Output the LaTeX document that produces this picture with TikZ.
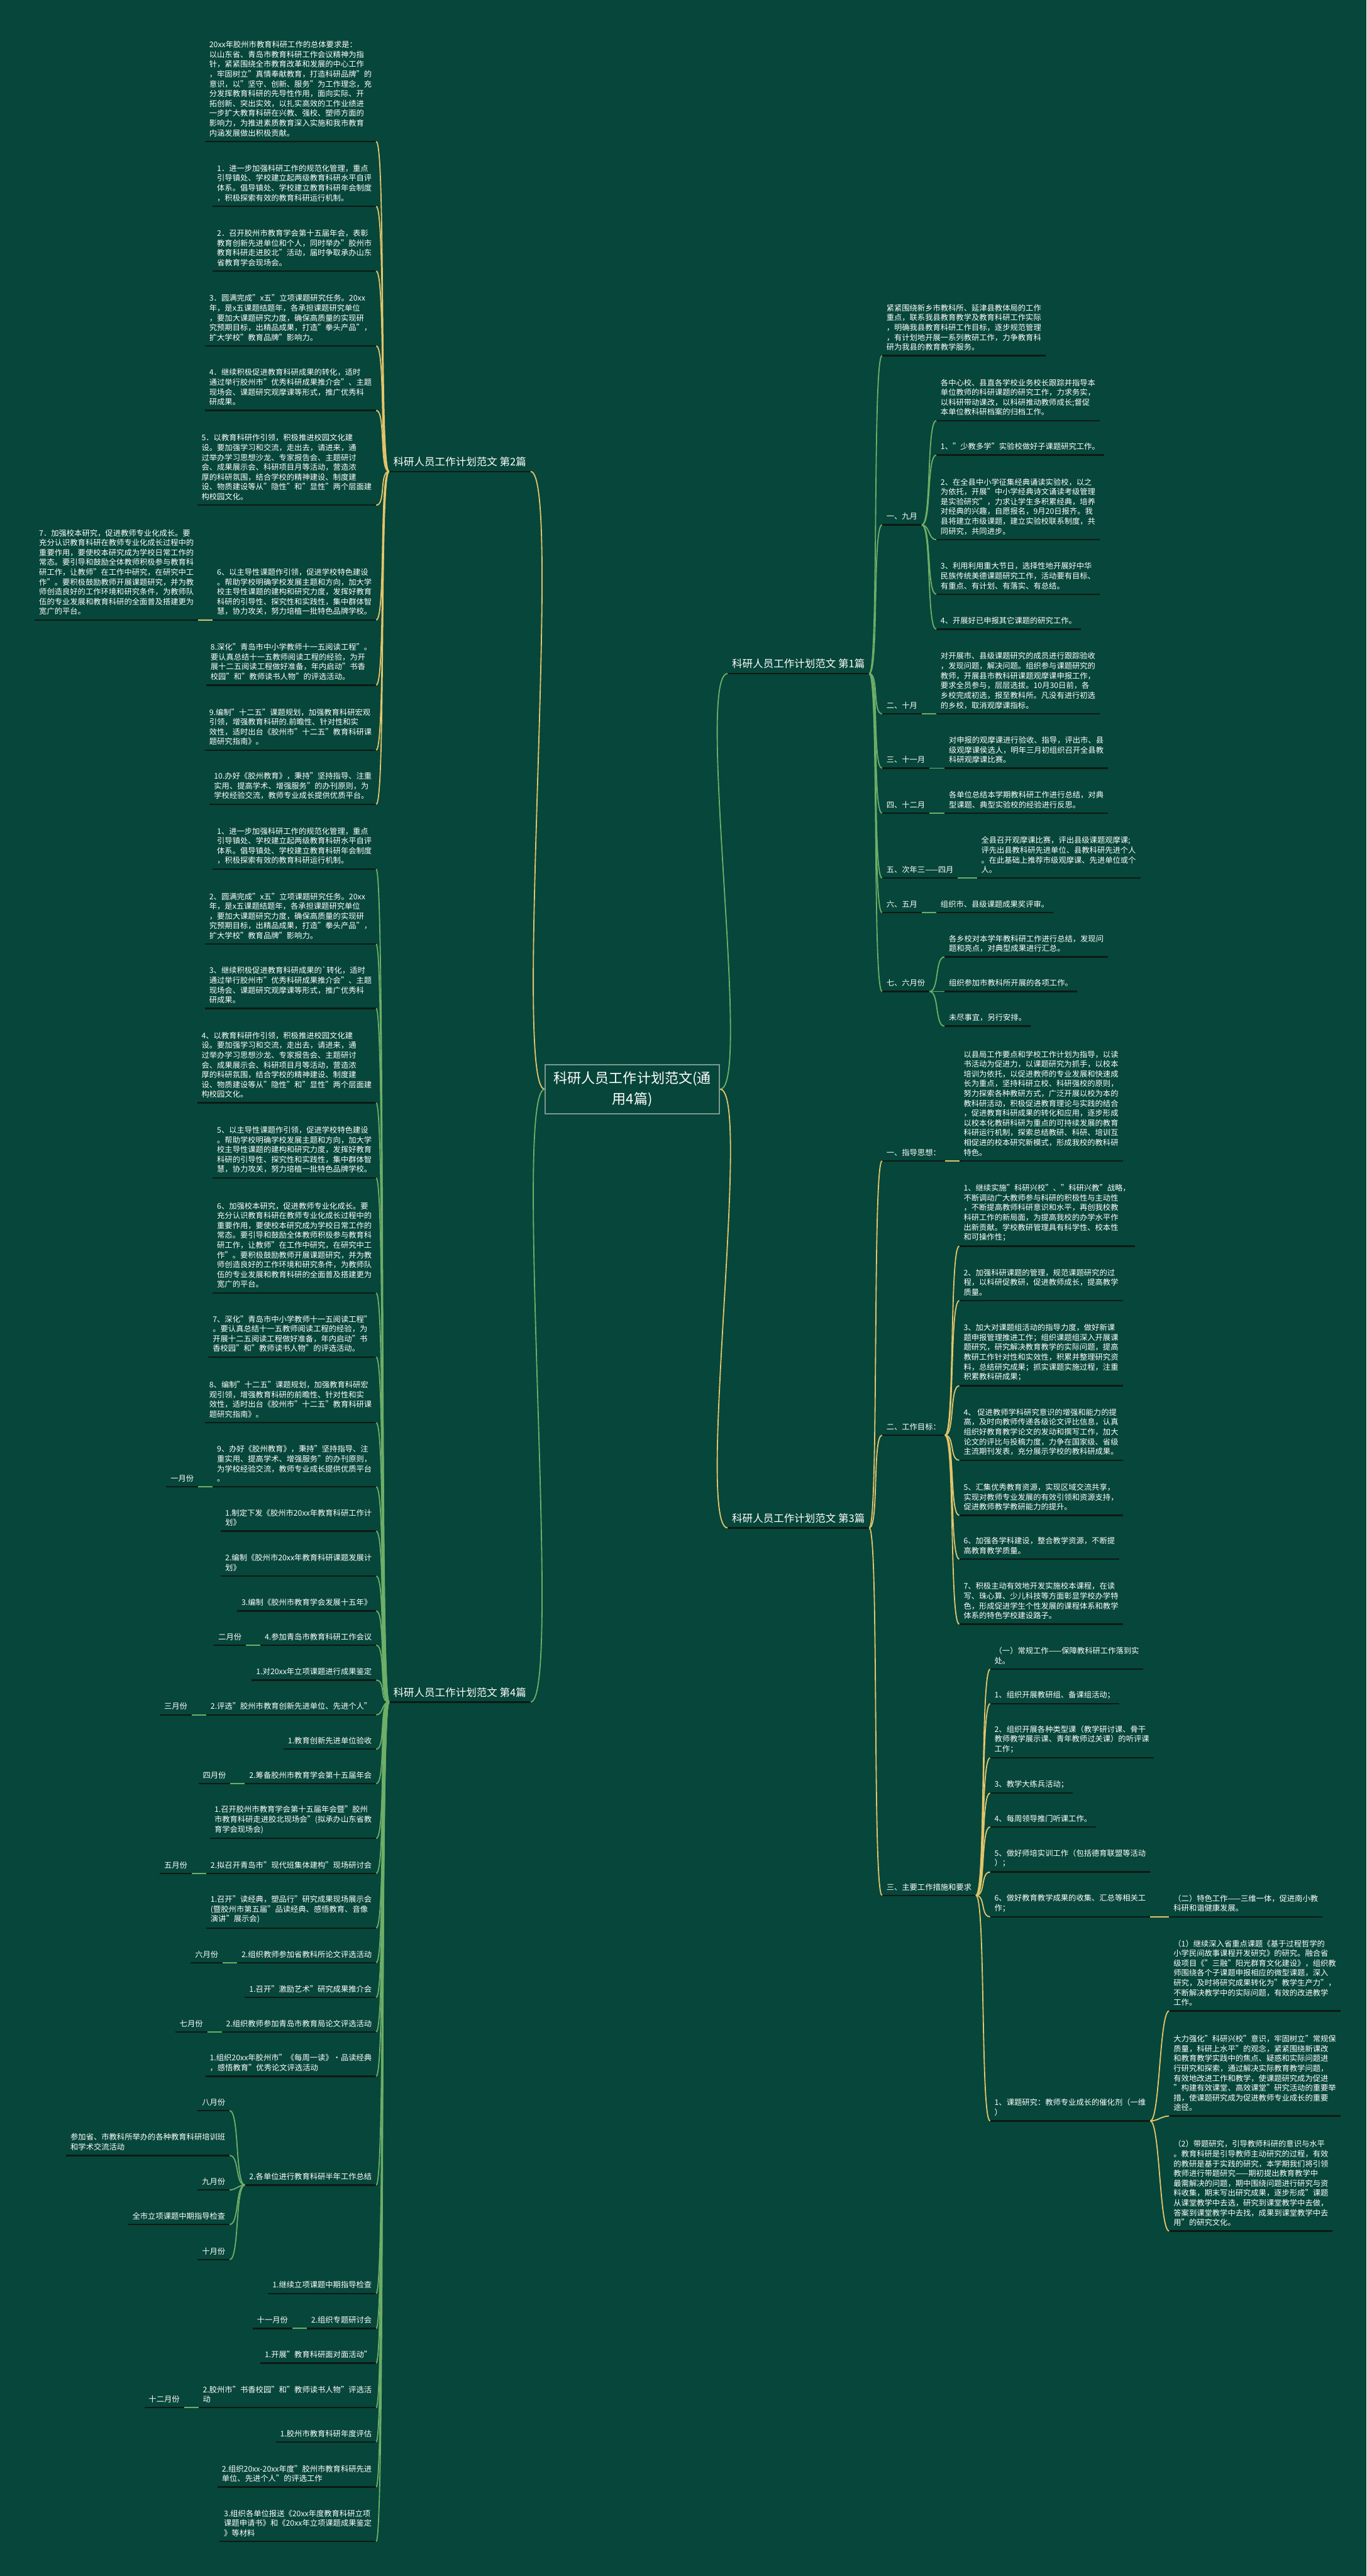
\documentclass[tikz,border=0pt]{standalone}
\usepackage{fontspec}
\setmainfont{Noto Sans CJK SC}
\usetikzlibrary{positioning}
\definecolor{bggreen}{HTML}{07463A}
\definecolor{linkyel}{HTML}{E2C56B}
\definecolor{linkgrn}{HTML}{6DAE68}
\definecolor{ulblack}{HTML}{0B1A14}
\definecolor{rootedge}{HTML}{7C9A8E}
\newcommand{\leaffont}{\fontsize{6.7pt}{8.5pt}\selectfont}
\newcommand{\chapfont}{\fontsize{9pt}{11pt}\selectfont}
\newcommand{\rootfont}{\fontsize{12pt}{18pt}\selectfont}
\tikzset{
  uline/.style={draw=ulblack,line width=1.3pt},
  leaf/.style={text=white,font=\leaffont,align=left,inner xsep=3.6pt,inner ysep=4pt,
    append after command={(\tikzlastnode.south west) edge[uline] (\tikzlastnode.south east)}},
  leafL/.style={leaf,anchor=south east},
  leafR/.style={leaf,anchor=south west},
  chapL/.style={leafL,font=\chapfont},
  chapR/.style={leafR,font=\chapfont},
  rootbox/.style={draw=rootedge,fill=bggreen,line width=1pt,text=white,font=\rootfont,
    align=center,minimum width=5.3cm,minimum height=1.5cm},
  ylink/.style={draw=linkyel,line width=1pt,max distance=0.3cm},
  glink/.style={draw=linkgrn,line width=1pt,max distance=0.3cm},
  tol/.style={out=180,in=0},
  tor/.style={out=0,in=180}
}
\begin{document}
\begin{tikzpicture}[x=0.05cm,y=-0.05cm]
\fill[bggreen] (0,0) rectangle (832,1568);
\useasboundingbox (0,0) rectangle (832,1568);

\node[rootbox] (root) at (385,663) {科研人员工作计划范文(通\\用4篇)};
\node[chapL] (ch2) at (323,287) {科研人员工作计划范文 第2篇};
\node[chapR] (ch1) at (443,410) {科研人员工作计划范文 第1篇};
\node[chapR] (ch3) at (443,930) {科研人员工作计划范文 第3篇};
\node[chapL] (ch4) at (323,1036) {科研人员工作计划范文 第4篇};

% 第2篇
\node[leafL] (p0) at (229,86.1) {20xx年胶州市教育科研工作的总体要求是：\\以山东省、青岛市教育科研工作会议精神为指\\针，紧紧围绕全市教育改革和发展的中心工作\\，牢固树立"真情奉献教育，打造科研品牌"的\\意识，以"坚守、创新、服务"为工作理念，充\\分发挥教育科研的先导性作用，面向实际、开\\拓创新、突出实效，以扎实高效的工作业绩进\\一步扩大教育科研在兴教、强校、塑师方面的\\影响力，为推进素质教育深入实施和我市教育\\内涵发展做出积极贡献。};
\node[leafL] (p1) at (229,125.6) {1．进一步加强科研工作的规范化管理，重点\\引导镇处、学校建立起两级教育科研水平自评\\体系。倡导镇处、学校建立教育科研年会制度\\，积极探索有效的教育科研运行机制。};
\node[leafL] (p2) at (229,165) {2．召开胶州市教育学会第十五届年会，表彰\\教育创新先进单位和个人，同时举办"胶州市\\教育科研走进胶北"活动，届时争取承办山东\\省教育学会现场会。};
\node[leafL] (p3) at (229,210.6) {3．圆满完成"x五"立项课题研究任务。20xx\\年，是x五课题结题年，各承担课题研究单位\\，要加大课题研究力度，确保高质量的实现研\\究预期目标，出精品成果，打造"拳头产品"，\\扩大学校"教育品牌"影响力。};
\node[leafL] (p4) at (229,249.8) {4．继续积极促进教育科研成果的转化，适时\\通过举行胶州市"优秀科研成果推介会"、主题\\现场会、课题研究观摩课等形式，推广优秀科\\研成果。};
\node[leafL] (p5) at (229,307.5) {5．以教育科研作引领，积极推进校园文化建\\设。要加强学习和交流，走出去，请进来，通\\过举办学习思想沙龙、专家报告会、主题研讨\\会、成果展示会、科研项目月等活动，营造浓\\厚的科研氛围，结合学校的精神建设、制度建\\设、物质建设等从"隐性"和"显性"两个层面建\\构校园文化。};
\node[leafL] (p6) at (229,377.4) {6、以主导性课题作引领，促进学校特色建设\\。帮助学校明确学校发展主题和方向，加大学\\校主导性课题的建构和研究力度，发挥好教育\\科研的引导性、探究性和实践性，集中群体智\\慧，协力攻关，努力培植一批特色品牌学校。};
\node[leaf,left=0.44cm of p6.south west,anchor=south east] (p7) {7．加强校本研究，促进教师专业化成长。要\\充分认识教育科研在教师专业化成长过程中的\\重要作用，要使校本研究成为学校日常工作的\\常态。要引导和鼓励全体教师积极参与教育科\\研工作，让教师"在工作中研究，在研究中工\\作"。要积极鼓励教师开展课题研究，并为教\\师创造良好的工作环境和研究条件，为教师队\\伍的专业发展和教育科研的全面普及搭建更为\\宽广的平台。};
\node[leafL] (p8) at (229,417) {8.深化"青岛市中小学教师十一五阅读工程"。\\要认真总结十一五教师阅读工程的经验，为开\\展十二五阅读工程做好准备，年内启动"书香\\校园"和"教师读书人物"的评选活动。};
\node[leafL] (p9) at (229,456.6) {9.编制"十二五"课题规划，加强教育科研宏观\\引领，增强教育科研的.前瞻性、针对性和实\\效性，适时出台《胶州市"十二五"教育科研课\\题研究指南》。};
\node[leafL] (p10) at (229,489.6) {10.办好《胶州教育》，秉持"坚持指导、注重\\实用、提高学术、增强服务"的办刊原则，为\\学校经验交流，教师专业成长提供优质平台。};

% 第1篇
\node[leafR] (c0) at (537,216.5) {紧紧围绕新乡市教科所、延津县教体局的工作\\重点，联系我县教育教学及教育科研工作实际\\，明确我县教育科研工作目标，逐步规范管理\\，有计划地开展一系列教研工作，力争教育科\\研为我县的教育教学服务。};
\node[leafR] (m9) at (537,319.5) {一、九月};
\node[leafR] (m9a) at (570,256) {各中心校、县直各学校业务校长跟踪并指导本\\单位教师的科研课题的研究工作，力求务实，\\以科研带动课改，以科研推动教师成长;督促\\本单位教科研档案的归档工作。};
\node[leafR] (m9b) at (570,277) {1、"少教多学"实验校做好子课题研究工作。};
\node[leafR] (m9c) at (570,328.5) {2、在全县中小学征集经典诵读实验校，以之\\为依托，开展"中小学经典诗文诵读考级管理\\是实验研究"，力求让学生多积累经典，培养\\对经典的兴趣，自愿报名，9月20日报齐。我\\县将建立市级课题，建立实验校联系制度，共\\同研究，共同进步。};
\node[leafR] (m9d) at (570,361.7) {3、利用利用重大节日，选择性地开展好中华\\民族传统美德课题研究工作，活动要有目标、\\有重点、有计划、有落实、有总结。};
\node[leafR] (m9e) at (570,383) {4、开展好已申报其它课题的研究工作。};
\node[leafR] (m10) at (537,434.5) {二、十月};
\node[leafR] (m10a) at (570,434.5) {对开展市、县级课题研究的成员进行跟踪验收\\，发现问题，解决问题。组织参与课题研究的\\教师，开展县市教科研课题观摩课申报工作，\\要求全员参与，层层选拔。10月30日前，各\\乡校完成初选，报至教科所。凡没有进行初选\\的乡校，取消观摩课指标。};
\node[leafR] (m11) at (537,467.6) {三、十一月};
\node[leafR] (m11a) at (575,467.6) {对申报的观摩课进行验收、指导，评出市、县\\级观摩课侯选人，明年三月初组织召开全县教\\科研观摩课比赛。};
\node[leafR] (m12) at (537,495) {四、十二月};
\node[leafR] (m12a) at (575,495) {各单位总结本学期教科研工作进行总结，对典\\型课题、典型实验校的经验进行反思。};
\node[leafR] (m34) at (537,534.5) {五、次年三——四月};
\node[leafR] (m34a) at (594.7,534.5) {全县召开观摩课比赛，评出县级课题观摩课;\\评先出县教科研先进单位、县教科研先进个人\\。在此基础上推荐市级观摩课、先进单位或个\\人。};
\node[leafR] (m5) at (537,555.5) {六、五月};
\node[leafR] (m5a) at (570,555.5) {组织市、县级课题成果奖评审。};
\node[leafR] (m6) at (537,603.5) {七、六月份};
\node[leafR] (m6a) at (575,582.5) {各乡校对本学年教科研工作进行总结，发现问\\题和亮点，对典型成果进行汇总。};
\node[leafR] (m6b) at (575,603.5) {组织参加市教科所开展的各项工作。};
\node[leafR] (m6c) at (575,624.6) {未尽事宜，另行安排。};

% 第3篇
\node[leafR] (g1) at (537,706.6) {一、指导思想：};
\node[leafR] (g1a) at (584,706.6) {以县局工作要点和学校工作计划为指导，以读\\书活动为促进力，以课题研究为抓手，以校本\\培训为依托，以促进教师的专业发展和快速成\\长为重点，坚持科研立校、科研强校的原则，\\努力探索各种教研方式，广泛开展以校为本的\\教科研活动，积极促进教育理论与实践的结合\\，促进教育科研成果的转化和应用，逐步形成\\以校本化教研科研为重点的可持续发展的教育\\科研运行机制，探索总结教研、科研、培训互\\相促进的校本研究新模式，形成我校的教科研\\特色。};
\node[leafR] (g2) at (537,873.6) {二、工作目标：};
\node[leafR] (g2a) at (584,758.5) {1、继续实施"科研兴校"、"科研兴教"战略，\\不断调动广大教师参与科研的积极性与主动性\\，不断提高教师科研意识和水平，再创我校教\\科研工作的新局面，为提高我校的办学水平作\\出新贡献。学校教研管理具有科学性、校本性\\和可操作性；};
\node[leafR] (g2b) at (584,791.7) {2、加强科研课题的管理，规范课题研究的过\\程，以科研促教研，促进教师成长，提高教学\\质量。};
\node[leafR] (g2c) at (584,843.5) {3、加大对课题组活动的指导力度，做好新课\\题申报管理推进工作；组织课题组深入开展课\\题研究，研究解决教育教学的实际问题，提高\\教研工作针对性和实效性，积累并整理研究资\\料，总结研究成果；抓实课题实施过程，注重\\积累教科研成果；};
\node[leafR] (g2d) at (584,888.8) {4、 促进教师学科研究意识的增强和能力的提\\高，及时向教师传递各级论文评比信息，认真\\组织好教育教学论文的发动和撰写工作，加大\\论文的评比与投稿力度，力争在国家级、省级\\主流期刊发表，充分展示学校的教科研成果。};
\node[leafR] (g2e) at (584,922.4) {5、汇集优秀教育资源，实现区域交流共享，\\实现对教师专业发展的有效引领和资源支持，\\促进教师教学教研能力的提升。};
\node[leafR] (g2f) at (584,949) {6、加强各学科建设，整合教学资源，不断提\\高教育教学质量。};
\node[leafR] (g2g) at (584,988.6) {7、积极主动有效地开发实施校本课程，在读\\写、珠心算、少儿科技等方面彰显学校办学特\\色，形成促进学生个性发展的课程体系和教学\\体系的特色学校建设路子。};
\node[leafR] (g3) at (537,1153.7) {三、主要工作措施和要求};
\node[leafR] (g3a) at (602.8,1016) {（一）常规工作——保障教科研工作落到实\\处。};
\node[leafR] (g3b) at (602.8,1037) {1、组织开展教研组、备课组活动；};
\node[leafR] (g3c) at (602.8,1070) {2、组织开展各种类型课（教学研讨课、骨干\\教师教学展示课、青年教师过关课）的听评课\\工作；};
\node[leafR] (g3d) at (602.8,1091.4) {3、教学大练兵活动；};
\node[leafR] (g3e) at (602.8,1112) {4、每周领导推门听课工作。};
\node[leafR] (g3f) at (602.8,1139.5) {5、做好师培实训工作（包括德育联盟等活动\\）；};
\node[leafR] (g3g) at (602.8,1166.7) {6、做好教育教学成果的收集、汇总等相关工\\作；};
\node[leafR] (g3g1) at (711.8,1166.7) {（二）特色工作——三维一体，促进南小教\\科研和谐健康发展。};
\node[leafR] (g3h) at (602.8,1291) {1、课题研究：教师专业成长的催化剂（一维\\）};
\node[leafR] (g3h1) at (711.8,1224) {（1）继续深入省重点课题《基于过程哲学的\\小学民间故事课程开发研究》的研究。融合省\\级项目《"三融"阳光群育文化建设》，组织教\\师围绕各个子课题申报相应的微型课题，深入\\研究，及时将研究成果转化为"教学生产力"，\\不断解决教学中的实际问题，有效的改进教学\\工作。};
\node[leafR] (g3h2) at (711.8,1288) {大力强化"科研兴校"意识，牢固树立"常规保\\质量，科研上水平"的观念，紧紧围绕新课改\\和教育教学实践中的焦点、疑惑和实际问题进\\行研究和探索，通过解决实际教育教学问题，\\有效地改进工作和教学，使课题研究成为促进\\"构建有效课堂、高效课堂"研究活动的重要举\\措，使课题研究成为促进教师专业成长的重要\\途径。};
\node[leafR] (g3h3) at (711.8,1358) {（2）带题研究，引导教师科研的意识与水平\\。教育科研是引导教师主动研究的过程，有效\\的教研是基于实践的研究，本学期我们将引领\\教师进行带题研究——期初提出教育教学中\\最需解决的问题，期中围绕问题进行研究与资\\料收集，期末写出研究成果，逐步形成"课题\\从课堂教学中去选，研究到课堂教学中去做，\\答案到课堂教学中去找，成果到课堂教学中去\\用"的研究文化。};

% 第4篇
\node[leafL] (q1) at (229,529) {1、进一步加强科研工作的规范化管理，重点\\引导镇处、学校建立起两级教育科研水平自评\\体系。倡导镇处、学校建立教育科研年会制度\\，积极探索有效的教育科研运行机制。};
\node[leafL] (q2) at (229,574.7) {2、圆满完成"x五"立项课题研究任务。20xx\\年，是x五课题结题年，各承担课题研究单位\\，要加大课题研究力度，确保高质量的实现研\\究预期目标，出精品成果，打造"拳头产品"，\\扩大学校"教育品牌"影响力。};
\node[leafL] (q3) at (229,613.8) {3、继续积极促进教育科研成果的\textasciigrave{}转化，适时\\通过举行胶州市"优秀科研成果推介会"、主题\\现场会、课题研究观摩课等形式，推广优秀科\\研成果。};
\node[leafL] (q4) at (229,671.3) {4、以教育科研作引领，积极推进校园文化建\\设。要加强学习和交流，走出去，请进来，通\\过举办学习思想沙龙、专家报告会、主题研讨\\会、成果展示会、科研项目月等活动，营造浓\\厚的科研氛围，结合学校的精神建设、制度建\\设、物质建设等从"隐性"和"显性"两个层面建\\构校园文化。};
\node[leafL] (q5) at (229,717) {5、以主导性课题作引领，促进学校特色建设\\。帮助学校明确学校发展主题和方向，加大学\\校主导性课题的建构和研究力度，发挥好教育\\科研的引导性、探究性和实践性，集中群体智\\慧，协力攻关，努力培植一批特色品牌学校。};
\node[leafL] (q6) at (229,787) {6、加强校本研究，促进教师专业化成长。要\\充分认识教育科研在教师专业化成长过程中的\\重要作用，要使校本研究成为学校日常工作的\\常态。要引导和鼓励全体教师积极参与教育科\\研工作，让教师"在工作中研究，在研究中工\\作"。要积极鼓励教师开展课题研究，并为教\\师创造良好的工作环境和研究条件，为教师队\\伍的专业发展和教育科研的全面普及搭建更为\\宽广的平台。};
\node[leafL] (q7) at (229,826) {7、深化"青岛市中小学教师十一五阅读工程"\\。要认真总结十一五教师阅读工程的经验，为\\开展十二五阅读工程做好准备，年内启动"书\\香校园"和"教师读书人物"的评选活动。};
\node[leafL] (q8) at (229,866) {8、编制"十二五"课题规划，加强教育科研宏\\观引领，增强教育科研的前瞻性、针对性和实\\效性，适时出台《胶州市"十二五"教育科研课\\题研究指南》。};
\node[leafL] (q9) at (229,905) {9、办好《胶州教育》，秉持"坚持指导、注\\重实用、提高学术、增强服务"的办刊原则，\\为学校经验交流，教师专业成长提供优质平台\\。};
\node[leafL] (q10) at (229,932) {1.制定下发《胶州市20xx年教育科研工作计\\划》};
\node[leafL] (q11) at (229,959.4) {2.编制《胶州市20xx年教育科研课题发展计\\划》};
\node[leafL] (q12) at (229,980.5) {3.编制《胶州市教育学会发展十五年》};
\node[leafL] (q13) at (229,1001.4) {4.参加青岛市教育科研工作会议};
\node[leafL] (q14) at (229,1022.7) {1.对20xx年立项课题进行成果鉴定};
\node[leafL] (q15) at (229,1043.8) {2.评选"胶州市教育创新先进单位、先进个人"};
\node[leafL] (q16) at (229,1064.7) {1.教育创新先进单位验收};
\node[leafL] (q17) at (229,1085.7) {2.筹备胶州市教育学会第十五届年会};
\node[leafL] (q18) at (229,1119) {1.召开胶州市教育学会第十五届年会暨"胶州\\市教育科研走进胶北现场会"(拟承办山东省教\\育学会现场会)};
\node[leafL] (q19) at (229,1140.3) {2.拟召开青岛市"现代班集体建构"现场研讨会};
\node[leafL] (q20) at (229,1173.6) {1.召开"读经典，塑品行"研究成果现场展示会\\(暨胶州市第五届"品读经典、感悟教育、音像\\演讲"展示会)};
\node[leafL] (q21) at (229,1194.7) {2.组织教师参加省教科所论文评选活动};
\node[leafL] (q22) at (229,1215.8) {1.召开"激励艺术"研究成果推介会};
\node[leafL] (q23) at (229,1236.8) {2.组织教师参加青岛市教育局论文评选活动};
\node[leafL] (q24) at (229,1263.8) {1.组织20xx年胶州市"《每周一读》·品读经典\\，感悟教育"优秀论文评选活动};
\node[leafL] (q25) at (229,1330) {2.各单位进行教育科研半年工作总结};
\node[leafL] (q26) at (229,1396) {1.继续立项课题中期指导检查};
\node[leafL] (q27) at (229,1417.3) {2.组织专题研讨会};
\node[leafL] (q28) at (229,1438.4) {1.开展"教育科研面对面活动"};
\node[leafL] (q29) at (229,1465.5) {2.胶州市"书香校园"和"教师读书人物"评选活\\动};
\node[leafL] (q30) at (229,1486.4) {1.胶州市教育科研年度评估};
\node[leafL] (q31) at (229,1513.8) {2.组织20xx-20xx年度"胶州市教育科研先进\\单位、先进个人"的评选工作};
\node[leafL] (q32) at (229,1547) {3.组织各单位报送《20xx年度教育科研立项\\课题申请书》和《20xx年立项课题成果鉴定\\》等材料};
\node[leaf,left=0.44cm of q9.south west,anchor=south east] (mo1) {一月份};
\node[leaf,left=0.44cm of q13.south west,anchor=south east] (mo2) {二月份};
\node[leaf,left=0.44cm of q15.south west,anchor=south east] (mo3) {三月份};
\node[leaf,left=0.44cm of q17.south west,anchor=south east] (mo4) {四月份};
\node[leaf,left=0.44cm of q19.south west,anchor=south east] (mo5) {五月份};
\node[leaf,left=0.44cm of q21.south west,anchor=south east] (mo6) {六月份};
\node[leaf,left=0.44cm of q23.south west,anchor=south east] (mo7) {七月份};
\node[leafL] (mo8) at (139.8,1284.7) {八月份};
\node[leafL] (r1) at (139.8,1312) {参加省、市教科所举办的各种教育科研培训班\\和学术交流活动};
\node[leafL] (mo9) at (139.8,1333) {九月份};
\node[leafL] (r2) at (139.8,1354) {全市立项课题中期指导检查};
\node[leafL] (mo10) at (139.8,1375.4) {十月份};
\node[leaf,left=0.44cm of q27.south west,anchor=south east] (mo11) {十一月份};
\node[leaf,left=0.44cm of q29.south west,anchor=south east] (mo12) {十二月份};

% connectors
\draw[ylink,tol,max distance=1cm] (root.west) to (ch2.south east);
\draw[glink,tol,max distance=1cm] (root.west) to (ch4.south east);
\draw[glink,tor,max distance=1cm] (root.east) to (ch1.south west);
\draw[ylink,tor,max distance=1cm] (root.east) to (ch3.south west);

\foreach \n in {p0,p1,p2,p3,p4,p5,p6,p8,p9,p10}
  \draw[ylink,tol] (ch2.south west) to (\n.south east);
\draw[ylink,tol] (p6.south west) to (p7.south east);

\foreach \n in {c0,m9,m10,m11,m12,m34,m5,m6}
  \draw[glink,tor] (ch1.south east) to (\n.south west);
\foreach \n in {m9a,m9b,m9c,m9d,m9e}
  \draw[glink,tor] (m9.south east) to (\n.south west);
\foreach \a/\b in {m10/m10a,m11/m11a,m12/m12a,m34/m34a,m5/m5a,m6/m6a,m6/m6b,m6/m6c}
  \draw[glink,tor] (\a.south east) to (\b.south west);

\foreach \n in {g1,g2,g3}
  \draw[ylink,tor] (ch3.south east) to (\n.south west);
\draw[ylink,tor] (g1.south east) to (g1a.south west);
\foreach \n in {g2a,g2b,g2c,g2d,g2e,g2f,g2g}
  \draw[ylink,tor] (g2.south east) to (\n.south west);
\foreach \n in {g3a,g3b,g3c,g3d,g3e,g3f,g3g,g3h}
  \draw[ylink,tor] (g3.south east) to (\n.south west);
\draw[ylink,tor] (g3g.south east) to (g3g1.south west);
\foreach \n in {g3h1,g3h2,g3h3}
  \draw[ylink,tor] (g3h.south east) to (\n.south west);

\foreach \n in {q1,q2,q3,q4,q5,q6,q7,q8,q9,q10,q11,q12,q13,q14,q15,q16,
                q17,q18,q19,q20,q21,q22,q23,q24,q25,q26,q27,q28,q29,q30,q31,q32}
  \draw[glink,tol] (ch4.south west) to (\n.south east);
\foreach \a/\b in {q9/mo1,q13/mo2,q15/mo3,q17/mo4,q19/mo5,q21/mo6,q23/mo7,
                   q25/mo8,q25/r1,q25/mo9,q25/r2,q25/mo10,q27/mo11,q29/mo12}
  \draw[glink,tol] (\a.south west) to (\b.south east);
\end{tikzpicture}
\end{document}
